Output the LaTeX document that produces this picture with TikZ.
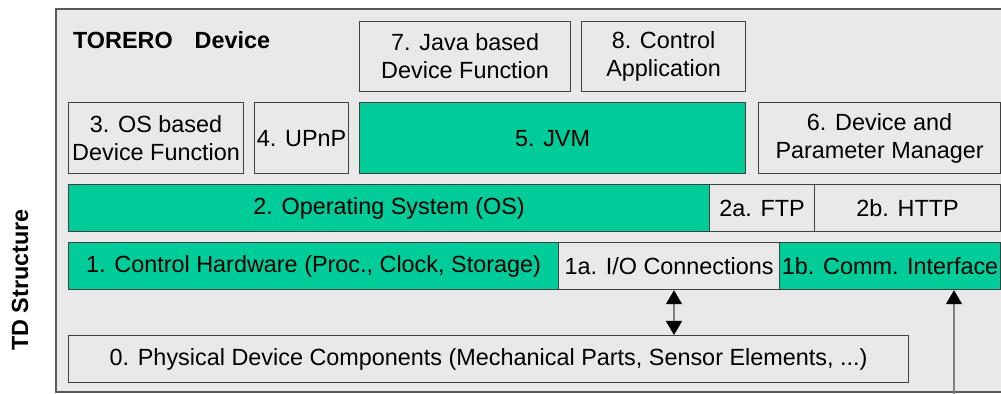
\documentclass[tikz,border=0pt]{standalone}
\usepackage{fontspec}
\setmainfont{Liberation Sans}
\usetikzlibrary{arrows.meta}
\definecolor{tdgreen}{RGB}{0,204,153}
\definecolor{tdgrey}{RGB}{233,233,233}
\definecolor{tdline}{RGB}{64,64,64}

\begin{document}
\begin{tikzpicture}[x=0.5pt,y=-0.5pt]
        \tikzstyle{layer}=[draw=tdline, line width=0.6pt, fill=tdgrey, anchor=north west, inner sep=0pt, align=center, font=\fontsize{11.7}{14}\selectfont]
        \tikzstyle{greenlayer}=[layer, fill=tdgreen]
        \tikzstyle{link}=[draw=gray, line width=0.7pt, >={Triangle[length=7pt,width=8pt,black]}]
        \useasboundingbox (0,0) rectangle (1001,394);
        \fill[tdgrey, draw=gray!70!black, line width=0.8pt] (56,9) rectangle (1010,392);
        \node[anchor=west, font=\fontsize{11.7}{14}\selectfont\bfseries] (title) at (66,40) {TORERO\hspace{11pt}Device};
        \node[rotate=90, font=\fontsize{11.7}{14}\selectfont\bfseries] (side) at (20,280) {TD Structure};
        % upper layers
        \node[layer, minimum width=105.5pt, minimum height=35pt] (java) at (359,21) {7. Java based\\Device Function};
        \node[layer, minimum width=82pt, minimum height=35pt] (ctrlapp) at (581,21) {8. Control\\Application};
        \node[layer, minimum width=87.5pt, minimum height=35.5pt] (osfunc) at (68,102) {3. OS based\\Device Function};
        \node[layer, minimum width=47pt, minimum height=35.5pt] (upnp) at (254,102) {4. UPnP};
        \node[greenlayer, minimum width=193pt, minimum height=35.5pt] (jvm) at (359,102) {5. JVM};
        \node[layer, minimum width=121pt, minimum height=35.5pt] (devman) at (758,102) {6. Device and\\Parameter Manager};
        % operating system
        \node[greenlayer, minimum width=320.5pt, minimum height=23.5pt] (os) at (68,184) {2. Operating System (OS)};
        \node[layer, minimum width=52.5pt, minimum height=23.5pt] (ftp) at (709,184) {2a. FTP};
        \node[layer, minimum width=93pt, minimum height=23.5pt] (http) at (814,184) {2b. HTTP};
        % hardware
        \node[greenlayer, minimum width=245pt, minimum height=23.5pt] (hw) at (68,242) {1. Control Hardware (Proc., Clock, Storage)};
        \node[layer, minimum width=110.5pt, minimum height=23.5pt] (io) at (558,242) {1a. I/O Connections};
        \node[greenlayer, minimum width=110.5pt, minimum height=23.5pt] (comm) at (779,242) {1b. Comm. Interface};
        \node[layer, minimum width=420pt, minimum height=23.5pt] (phys) at (68,335) {0. Physical Device Components (Mechanical Parts, Sensor Elements, ...)};
        % connectors
        \coordinate (iox) at (674,0);
        \coordinate (commin) at (954,394);
        \draw[link, <->] (iox |- io.south) -- (iox |- phys.north);
        \draw[link, ->] (commin) -- (commin |- comm.south);
\end{tikzpicture}
\end{document}
